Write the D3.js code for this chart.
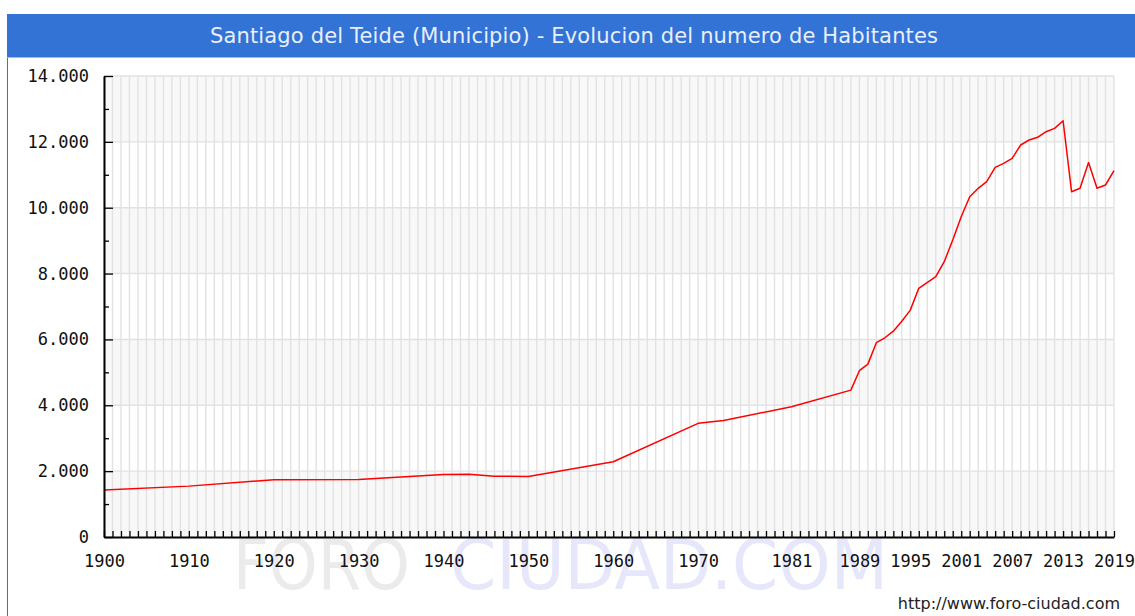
<!DOCTYPE html>
<html>
<head>
<meta charset="utf-8">
<script src="https://cdn.jsdelivr.net/npm/d3@7"></script>
<style>
  body { margin: 0; background: #fff; }
  svg { display: block; }
</style>
</head>
<body>
<svg id="chart" width="1135" height="616"></svg>
<script>
'use strict';

// population
const years = [1900, 1910, 1920, 1930, 1940, 1943, 1946, 1950, 1960, 1970, 1973, 1981, 1988,
  1989, 1990, 1991, 1992, 1993, 1994, 1995, 1996, 1998, 1999, 2000, 2001, 2002, 2003,
  2004, 2005, 2006, 2007, 2008, 2009, 2010, 2011, 2012, 2013, 2014, 2015, 2016,
  2017, 2018, 2019];
const population = [1430, 1545, 1740, 1745, 1900, 1905, 1845, 1840, 2287, 3452, 3540, 3957, 4460,
  5050, 5250, 5900, 6050, 6250, 6550, 6890, 7553, 7905, 8361, 9019, 9727, 10334, 10589,
  10790, 11227, 11348, 11500, 11904, 12056, 12138, 12309, 12411, 12642, 10486, 10589, 11370,
  10589, 10690, 11125];

const labelYears = [1900, 1910, 1920, 1930, 1940, 1950, 1960, 1970, 1981, 1989, 1995, 2001, 2007, 2013, 2019];
const yMax = 14000;

const title = 'Santiago del Teide (Municipio) - Evolucion del numero de Habitantes';

const W = 1135, H = 616;
const margin = { left: 104, right: 21, top: 76, bottom: 79 };

let svg = d3.select('#chart');

// frame + title bar
svg.append('line')
  .attr('x1', 7.5).attr('x2', 7.5).attr('y1', 14).attr('y2', H)
  .attr('stroke', '#3373d6').attr('stroke-width', 1);
svg.append('rect')
  .attr('x', 7).attr('y', 14).attr('width', W - 7).attr('height', 43)
  .attr('fill', '#3373d6');
svg.append('line')
  .attr('x1', 7).attr('x2', W).attr('y1', 57.5).attr('y2', 57.5)
  .attr('stroke', '#9dbcec').attr('stroke-width', 1);
svg.append('text')
  .attr('x', 574).attr('y', 43)
  .attr('text-anchor', 'middle')
  .attr('font-family', 'DejaVu Sans, Verdana, sans-serif')
  .attr('font-size', 21)
  .attr('fill', '#e9effb')
  .attr('textLength', 728).attr('lengthAdjust', 'spacing')
  .text(title);

// watermark
let wm = svg.append('g')
  .attr('font-family', 'DejaVu Sans, sans-serif')
  .attr('font-size', 70);
wm.append('text').attr('x', 233).attr('y', 589)
  .attr('fill', '#ebebeb')
  .attr('textLength', 177).attr('lengthAdjust', 'spacingAndGlyphs')
  .text('FORO');
wm.append('text').attr('x', 450).attr('y', 589)
  .attr('fill', '#e7e7fc')
  .attr('textLength', 438).attr('lengthAdjust', 'spacingAndGlyphs')
  .text('CIUDAD.COM');

let x = d3.scaleLinear().domain([1900, 2019]).range([margin.left, W - margin.right]);
let y = d3.scaleLinear().domain([0, yMax]).range([H - margin.bottom, margin.top]);

// alternating bands
let bands = d3.range(0, yMax, 2000);
svg.append('g').selectAll('rect').data(bands).enter().append('rect')
  .attr('x', x(1900)).attr('width', x(2019) - x(1900))
  .attr('y', d => y(d + 2000)).attr('height', d => y(d) - y(d + 2000))
  .attr('fill', (d, i) => i % 2 === 0 ? '#f8f8f8' : '#ffffff');

// grid
let allYears = d3.range(1900, 2020);
svg.append('g').selectAll('line').data(allYears).enter().append('line')
  .attr('x1', d => x(d)).attr('x2', d => x(d))
  .attr('y1', y(yMax)).attr('y2', y(0))
  .attr('stroke', '#e2e2e2').attr('stroke-width', 1.4);
svg.append('g').selectAll('line').data(d3.range(2000, yMax + 1, 2000)).enter().append('line')
  .attr('x1', x(1900)).attr('x2', x(2019))
  .attr('y1', d => y(d)).attr('y2', d => y(d))
  .attr('stroke', '#e2e2e2').attr('stroke-width', 1.4);

// line
let line = d3.line().x((d, i) => x(years[i])).y(d => y(d));
svg.append('path')
  .datum(population)
  .attr('d', line)
  .attr('fill', 'none')
  .attr('stroke', '#ff0000')
  .attr('stroke-width', 1.5)
  .attr('stroke-linejoin', 'round');

// axes
let fmt = d3.formatLocale({ decimal: ',', thousands: '.', grouping: [3], currency: ['', ''] }).format(',d');

let xAxis = d3.axisBottom(x)
  .tickValues(allYears)
  .tickSize(-6).tickSizeOuter(0).tickPadding(18)
  .tickFormat(d => labelYears.includes(d) ? d : '');
let gx = svg.append('g')
  .attr('transform', `translate(0,${y(0)})`)
  .call(xAxis);

let yAxis = d3.axisLeft(y)
  .tickValues(d3.range(0, yMax + 1, 1000))
  .tickSize(-9).tickSizeOuter(0).tickPadding(15)
  .tickFormat(d => d % 2000 === 0 ? fmt(d) : '');
let gy = svg.append('g')
  .attr('transform', `translate(${x(1900)},0)`)
  .call(yAxis);
gy.selectAll('.tick line').attr('x2', d => d % 2000 === 0 ? 9 : 5);

[gx, gy].forEach(g => {
  g.select('.domain').attr('stroke', '#000').attr('stroke-width', 2);
  g.selectAll('.tick line').attr('stroke', '#000').attr('stroke-width', 1.3);
  g.selectAll('.tick text')
    .attr('fill', '#111')
    .attr('font-family', 'DejaVu Sans Mono, monospace')
    .attr('font-size', 17);
});

// source
svg.append('text')
  .attr('x', 1120).attr('y', 609)
  .attr('text-anchor', 'end')
  .attr('font-family', 'DejaVu Sans, sans-serif')
  .attr('font-size', 16)
  .attr('fill', '#222')
  .text('http://www.foro-ciudad.com');
</script>
</body>
</html>
